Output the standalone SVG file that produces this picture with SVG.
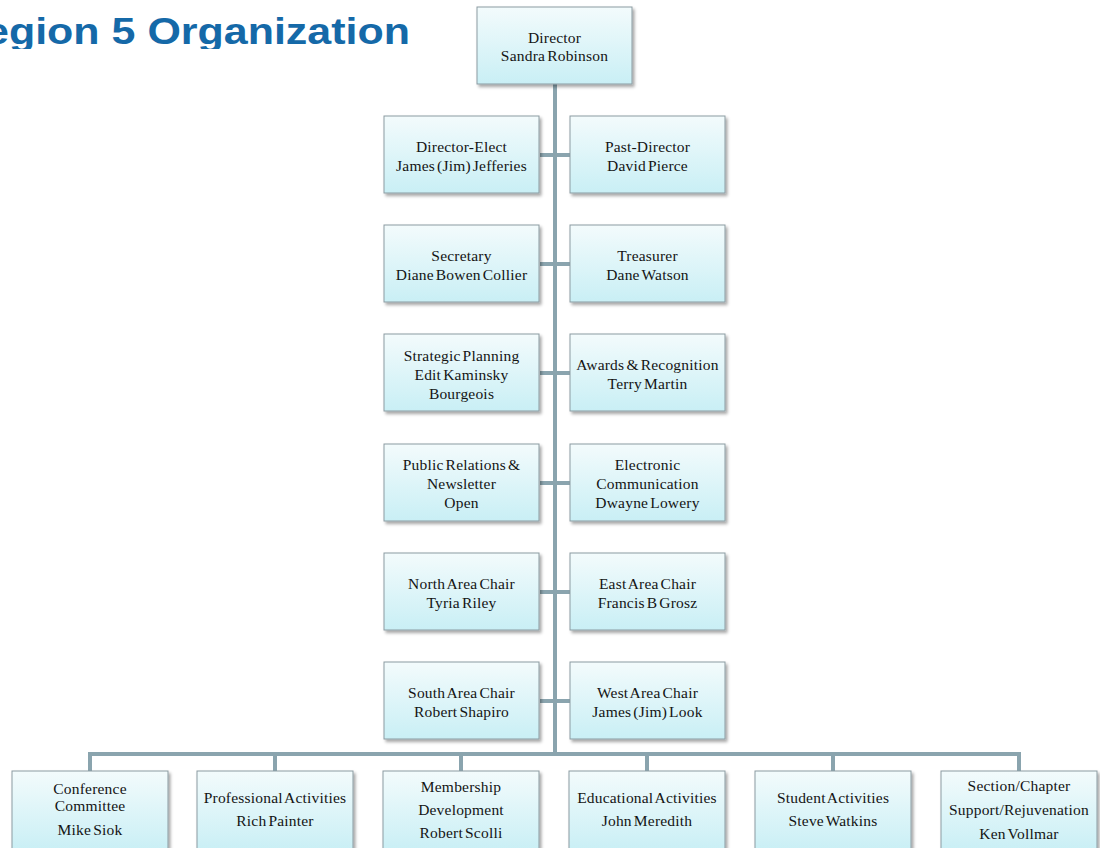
<svg xmlns="http://www.w3.org/2000/svg" width="1100" height="848" viewBox="0 0 1100 848">
<defs>
<linearGradient id="g" x1="0" y1="0" x2="0" y2="1">
<stop offset="0" stop-color="#f3fbfc"/>
<stop offset="1" stop-color="#c9eff5"/>
</linearGradient>
<filter id="sh" x="-10%" y="-10%" width="125%" height="130%">
<feDropShadow dx="2" dy="2.5" stdDeviation="1.5" flood-color="#000" flood-opacity="0.35"/>
</filter>
<clipPath id="tc"><rect x="0" y="0" width="460" height="49"/></clipPath>
<style>
.b{fill:url(#g);stroke:#8b9ba1;stroke-width:1;filter:url(#sh)}
.t{font-family:"Liberation Serif","Times New Roman",serif;font-size:15.5px;fill:#141414;text-anchor:middle;letter-spacing:0.2px;word-spacing:-2px}
.c{stroke:#8aa4ae;stroke-width:4;fill:none}
</style>
</defs>
<rect width="1100" height="848" fill="#fff"/>
<g id="title" clip-path="url(#tc)">
<text x="-46" y="44" font-family="Liberation Sans, Arial, sans-serif" font-weight="bold" font-size="37" fill="#1569a8" textLength="456" lengthAdjust="spacingAndGlyphs">Region 5 Organization</text>
</g>
<g id="connectors">
<line class="c" x1="555" y1="84" x2="555" y2="756"/>
<line class="c" x1="540" y1="155" x2="570" y2="155"/>
<line class="c" x1="540" y1="264" x2="570" y2="264"/>
<line class="c" x1="540" y1="373" x2="570" y2="373"/>
<line class="c" x1="540" y1="483" x2="570" y2="483"/>
<line class="c" x1="540" y1="592" x2="570" y2="592"/>
<line class="c" x1="540" y1="701" x2="570" y2="701"/>
<polyline class="c" points="90,771 90,754 1019,754 1019,771"/>
<line class="c" x1="275" y1="754" x2="275" y2="771"/>
<line class="c" x1="461" y1="754" x2="461" y2="771"/>
<line class="c" x1="647" y1="754" x2="647" y2="771"/>
<line class="c" x1="833" y1="754" x2="833" y2="771"/>
</g>
<g id="director"><rect class="b" x="477" y="7" width="155" height="77"/><text class="t" x="554.5" y="43">Director</text><text class="t" x="554.5" y="61">Sandra Robinson</text></g>
<g id="director-elect"><rect class="b" x="384" y="116" width="155" height="77"/><text class="t" x="461.5" y="152">Director-Elect</text><text class="t" x="461.5" y="171">James (Jim) Jefferies</text></g>
<g id="past-director"><rect class="b" x="570" y="116" width="155" height="77"/><text class="t" x="647.5" y="152">Past-Director</text><text class="t" x="647.5" y="171">David Pierce</text></g>
<g id="secretary"><rect class="b" x="384" y="225" width="155" height="77"/><text class="t" x="461.5" y="261">Secretary</text><text class="t" x="461.5" y="280">Diane Bowen Collier</text></g>
<g id="treasurer"><rect class="b" x="570" y="225" width="155" height="77"/><text class="t" x="647.5" y="261">Treasurer</text><text class="t" x="647.5" y="280">Dane Watson</text></g>
<g id="strategic"><rect class="b" x="384" y="334" width="155" height="77"/><text class="t" x="461.5" y="361">Strategic Planning</text><text class="t" x="461.5" y="380">Edit Kaminsky</text><text class="t" x="461.5" y="399">Bourgeois</text></g>
<g id="awards"><rect class="b" x="570" y="334" width="155" height="77"/><text class="t" x="647.5" y="370">Awards &amp; Recognition</text><text class="t" x="647.5" y="389">Terry Martin</text></g>
<g id="pr"><rect class="b" x="384" y="444" width="155" height="77"/><text class="t" x="461.5" y="470">Public Relations &amp;</text><text class="t" x="461.5" y="489">Newsletter</text><text class="t" x="461.5" y="508">Open</text></g>
<g id="electronic"><rect class="b" x="570" y="444" width="155" height="77"/><text class="t" x="647.5" y="470">Electronic</text><text class="t" x="647.5" y="489">Communication</text><text class="t" x="647.5" y="508">Dwayne Lowery</text></g>
<g id="north"><rect class="b" x="384" y="553" width="155" height="77"/><text class="t" x="461.5" y="589">North Area Chair</text><text class="t" x="461.5" y="608">Tyria Riley</text></g>
<g id="east"><rect class="b" x="570" y="553" width="155" height="77"/><text class="t" x="647.5" y="589">East Area Chair</text><text class="t" x="647.5" y="608">Francis B Grosz</text></g>
<g id="south"><rect class="b" x="384" y="662" width="155" height="77"/><text class="t" x="461.5" y="698">South Area Chair</text><text class="t" x="461.5" y="717">Robert Shapiro</text></g>
<g id="west"><rect class="b" x="570" y="662" width="155" height="77"/><text class="t" x="647.5" y="698">West Area Chair</text><text class="t" x="647.5" y="717">James (Jim) Look</text></g>
<g id="conference"><rect class="b" x="12" y="771" width="156" height="80"/><text class="t" x="90" y="794">Conference</text><text class="t" x="90" y="811">Committee</text><text class="t" x="90" y="835">Mike Siok</text></g>
<g id="professional"><rect class="b" x="197" y="771" width="156" height="80"/><text class="t" x="275" y="803">Professional Activities</text><text class="t" x="275" y="826">Rich Painter</text></g>
<g id="membership"><rect class="b" x="383" y="771" width="156" height="80"/><text class="t" x="461" y="792">Membership</text><text class="t" x="461" y="815">Development</text><text class="t" x="461" y="838">Robert Scolli</text></g>
<g id="educational"><rect class="b" x="569" y="771" width="156" height="80"/><text class="t" x="647" y="803">Educational Activities</text><text class="t" x="647" y="826">John Meredith</text></g>
<g id="student"><rect class="b" x="755" y="771" width="156" height="80"/><text class="t" x="833" y="803">Student Activities</text><text class="t" x="833" y="826">Steve Watkins</text></g>
<g id="section"><rect class="b" x="941" y="771" width="156" height="80"/><text class="t" x="1019" y="791">Section/Chapter</text><text class="t" x="1019" y="815">Support/Rejuvenation</text><text class="t" x="1019" y="839">Ken Vollmar</text></g>
</svg>
